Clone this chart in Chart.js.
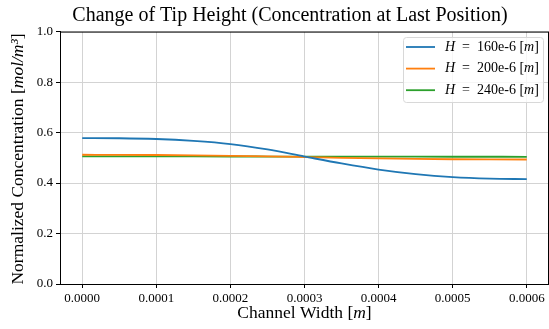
<!DOCTYPE html>
<html><head><meta charset="utf-8">
<script src="https://cdn.jsdelivr.net/npm/chart.js@4.4.1/dist/chart.umd.min.js"></script>
<style>html,body{margin:0;padding:0;background:#fff}#wrap{width:549px;height:329px;position:relative}</style>
</head><body><div id="wrap"><canvas id="c" width="549" height="329"></canvas></div>
<script>
const xValues = [0, 0.00005, 0.0001, 0.00015, 0.0002, 0.00025, 0.0003, 0.00035, 0.0004, 0.00045, 0.0005, 0.00055, 0.0006];
const h160 = [0.578, 0.5775, 0.5745, 0.567, 0.5545, 0.533, 0.505, 0.4775, 0.4535, 0.4355, 0.4235, 0.4175, 0.4155];
const h200 = [0.512, 0.5118, 0.511, 0.5098, 0.508, 0.5058, 0.503, 0.5, 0.4975, 0.4955, 0.4943, 0.4935, 0.4932];
const h240 = [0.5055, 0.5055, 0.5054, 0.5053, 0.5052, 0.505, 0.5048, 0.5046, 0.5044, 0.5043, 0.5042, 0.5041, 0.504];
const seriesLabels = ['H = 160e-6 [m]', 'H = 200e-6 [m]', 'H = 240e-6 [m]'];
const xTicks = [0, 0.0001, 0.0002, 0.0003, 0.0004, 0.0005, 0.0006];
const yTicks = [0.0, 0.2, 0.4, 0.6, 0.8, 1.0];
const colors = ['#1f77b4', '#ff7f0e', '#2ca02c'];
const TITLE = 'Change of Tip Height (Concentration at Last Position)';
const FONT = '"Liberation Serif", serif';

function pts(arr){ return xValues.map((x,i)=>({x:x,y:arr[i]})); }

// '$' toggles italic
function richWidth(ctx, text, size){
  let w=0, it=false;
  for (const part of text.split('$')) { ctx.font=(it?'italic ':'')+size+'px '+FONT; w+=ctx.measureText(part).width; it=!it; }
  return w;
}
function richDraw(ctx, text, size, x, y){
  let it=false;
  for (const part of text.split('$')) { ctx.font=(it?'italic ':'')+size+'px '+FONT; ctx.fillText(part,x,y); x+=ctx.measureText(part).width; it=!it; }
}

const deco = {
  id:'deco',
  afterDraw(chart){
    const ctx=chart.ctx, a=chart.chartArea;
    ctx.save();
    ctx.strokeStyle='#000'; ctx.lineWidth=1;
    ctx.strokeRect(a.left+0.5, a.top+0.5, a.right-a.left-1, a.bottom-a.top);
    ctx.fillStyle='#000'; ctx.textBaseline='middle';
    // title
    let w=richWidth(ctx,TITLE,20);
    richDraw(ctx,TITLE,20,290-w/2,16);
    // x title
    const xt='Channel Width [$m$]';
    w=richWidth(ctx,xt,17.5);
    richDraw(ctx,xt,17.5,(a.left+a.right)/2-w/2,313);
    // y title
    ctx.save();
    ctx.translate(18,159);
    ctx.rotate(-Math.PI/2);
    const yt='Normalized Concentration [$mol/m³$]';
    w=richWidth(ctx,yt,17.5);
    richDraw(ctx,yt,17.5,-w/2,0);
    ctx.restore();
    // legend
    const lx=403, ly=37, lw=140, lh=65;
    ctx.beginPath();
    ctx.roundRect(lx+0.5,ly+0.5,lw,lh,3);
    ctx.fillStyle='rgba(255,255,255,0.8)'; ctx.fill();
    ctx.strokeStyle='#d8d8d8'; ctx.lineWidth=1; ctx.stroke();
    chart.data.datasets.forEach((ds,i)=>{
      const yy=47+i*21.6;
      ctx.strokeStyle=ds.borderColor; ctx.lineWidth=1.8;
      ctx.beginPath(); ctx.moveTo(406,yy); ctx.lineTo(435,yy); ctx.stroke();
      ctx.fillStyle='#000';
      const t=ds.label.replace('H','$H$').replace('[m]','[$m$]').replace(' = ','  =  ');
      richDraw(ctx,t,14,445,yy);
    });
    ctx.restore();
  }
};

new Chart(document.getElementById('c'), {
  type:'line',
  data:{datasets:[
    {label:seriesLabels[0], data:pts(h160), borderColor:colors[0]},
    {label:seriesLabels[1], data:pts(h200), borderColor:colors[1]},
    {label:seriesLabels[2], data:pts(h240), borderColor:colors[2]}
  ].map(d=>Object.assign(d,{borderWidth:1.8,pointRadius:0,cubicInterpolationMode:'monotone',fill:false}))},
  options:{
    responsive:false, animation:false, devicePixelRatio:1,
    layout:{padding:{left:0,right:0,top:0,bottom:0}},
    plugins:{
      legend:{display:false}, tooltip:{enabled:false},
      title:{display:true, text:TITLE, color:'rgba(0,0,0,0)',
        font:{family:FONT,size:18,weight:'normal'}, padding:{top:6,bottom:4}}
    },
    scales:{
      x:{type:'linear', min:-0.00003, max:0.00063,
        afterBuildTicks(s){ s.ticks=xTicks.map(v=>({value:v})); },
        afterFit(s){ s.height=45; },
        ticks:{callback:v=>v.toFixed(4), color:'#000', font:{family:FONT,size:13}, maxRotation:0, autoSkip:false, padding:3},
        grid:{color:'#d3d3d3', tickColor:'#000', tickLength:4, lineWidth:1},
        border:{color:'#000'}},
      y:{type:'linear', min:0, max:1,
        afterBuildTicks(s){ s.ticks=yTicks.map(v=>({value:v})); },
        afterFit(s){ s.width=60; },
        ticks:{callback:v=>v.toFixed(1), color:'#000', font:{family:FONT,size:13}, padding:3},
        grid:{color:'#d3d3d3', tickColor:'#000', tickLength:4, lineWidth:1},
        border:{color:'#000'}}
    }
  },
  plugins:[deco]
});
</script></body></html>
